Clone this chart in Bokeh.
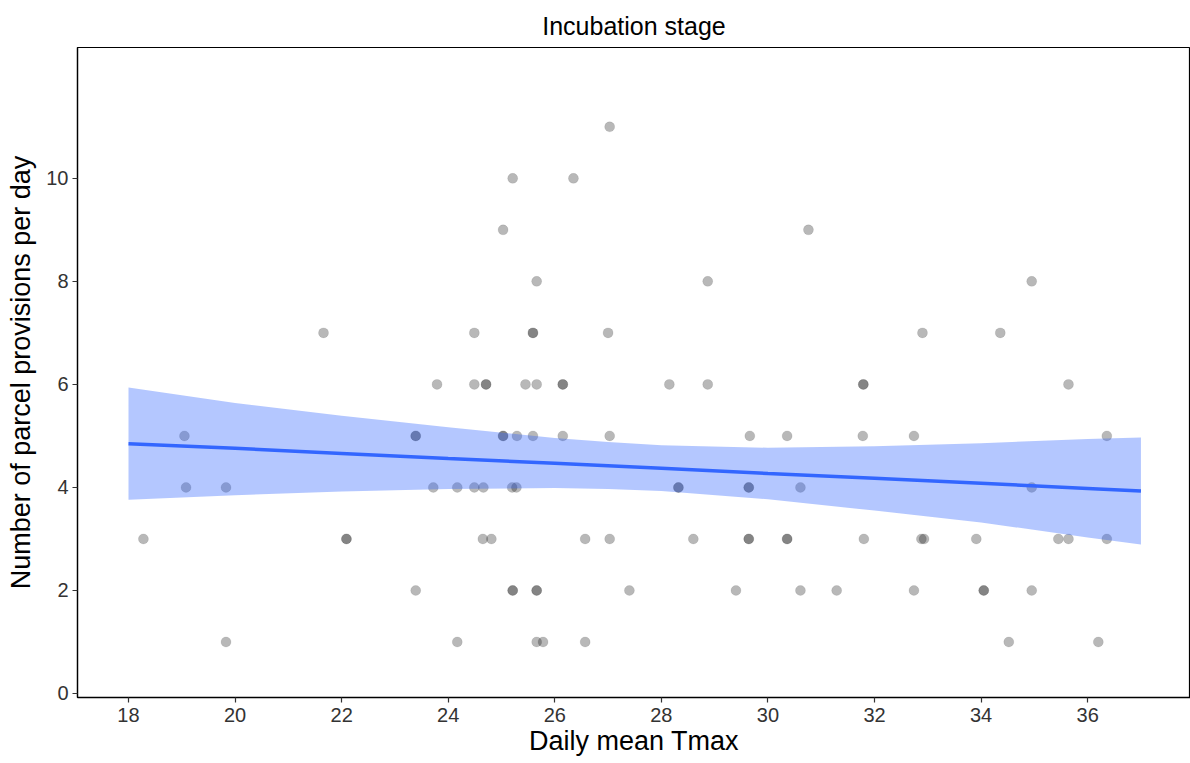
from bokeh.plotting import figure
from bokeh.models import Range1d, FixedTicker, ColumnDataSource
from bokeh.embed import file_html
from bokeh.resources import INLINE

# ---- data ----
pt_x = [
    27.03,
    25.21, 26.35,
    25.03, 30.76,
    25.66, 28.87, 34.95,
    21.66, 24.49, 25.59, 25.59, 27.00, 32.90, 34.36,
    23.79, 24.49, 24.71, 24.71, 25.45, 25.66, 26.15, 26.15, 28.15, 28.87, 31.79, 31.79, 35.64,
    19.05, 23.39, 23.39, 25.03, 25.03, 25.29, 25.59, 26.15, 27.03, 29.66, 30.36, 31.78, 32.74, 36.36,
    19.08, 19.83, 23.72, 24.17, 24.49, 24.66, 25.20, 25.28, 28.32, 28.32, 29.64, 29.64, 30.61, 34.95,
    18.28, 22.09, 22.09, 24.65, 24.81, 26.57, 27.03, 28.60, 29.64, 29.64, 30.36, 30.36, 31.80, 32.88, 32.93, 33.91, 35.45, 35.64, 36.36,
    23.39, 25.21, 25.21, 25.66, 25.66, 27.40, 29.40, 30.61, 31.29, 32.74, 34.05, 34.05, 34.95,
    19.83, 24.17, 25.66, 25.78, 26.57, 34.52, 36.20,
]
pt_y = (
    [11] * 1 + [10] * 2 + [9] * 2 + [8] * 3 + [7] * 7 + [6] * 13 + [5] * 14
    + [4] * 14 + [3] * 19 + [2] * 13 + [1] * 7
)

smooth_x = [18, 20, 22, 24, 26, 27, 28, 30, 32, 34, 36, 37]
smooth_fit = [4.85, 4.76, 4.66, 4.56, 4.47, 4.42, 4.37, 4.27, 4.18, 4.08, 3.98, 3.93]
smooth_upper = [5.94, 5.64, 5.39, 5.17, 4.96, 4.88, 4.82, 4.77, 4.80, 4.86, 4.94, 4.97]
smooth_lower = [3.76, 3.85, 3.92, 3.97, 3.99, 3.97, 3.93, 3.77, 3.55, 3.32, 3.03, 2.89]

x_ticks = [18, 20, 22, 24, 26, 28, 30, 32, 34, 36]
y_ticks = [0, 2, 4, 6, 8, 10]

FONT = "Liberation Sans"

p = figure(
    width=1190, height=763,
    x_range=Range1d(17.043, 37.93), y_range=Range1d(-0.078, 12.54),
    output_backend="svg", toolbar_location=None,
    min_border_left=77, min_border_right=0, min_border_top=47, min_border_bottom=66,
    title="Incubation stage",
)
p.background_fill_color = "white"
p.border_fill_color = "white"
p.xgrid.visible = False
p.ygrid.visible = False
p.outline_line_color = "black"
p.outline_line_width = 1.2

p.title.align = "center"
p.title.text_font = FONT
p.title.text_font_size = "25px"
p.title.text_font_style = "normal"
p.title.text_color = "black"
p.title.standoff = 15

src = ColumnDataSource(dict(x=pt_x, y=pt_y))
p.scatter("x", "y", source=src, size=10, fill_color="black", fill_alpha=0.28,
          line_color="black", line_alpha=0.08, line_width=1)

sm = ColumnDataSource(dict(x=smooth_x, fit=smooth_fit, lo=smooth_lower, hi=smooth_upper))
p.varea(x="x", y1="lo", y2="hi", source=sm, fill_color="#3366FF", fill_alpha=0.37)
p.line(x="x", y="fit", source=sm, line_color="#3366FF", line_width=3.5)

for ax in (p.xaxis[0], p.yaxis[0]):
    ax.axis_line_color = "black"
    ax.axis_line_width = 1.3
    ax.major_tick_line_color = "#333333"
    ax.major_tick_line_width = 1.2
    ax.major_tick_out = 5
    ax.major_tick_in = 0
    ax.minor_tick_line_color = None
    ax.major_label_text_font = FONT
    ax.major_label_text_font_size = "20px"
    ax.major_label_text_color = "#333333"
    ax.axis_label_text_font = FONT
    ax.axis_label_text_font_size = "27px"
    ax.axis_label_text_font_style = "normal"
    ax.axis_label_text_color = "black"

p.xaxis[0].ticker = FixedTicker(ticks=x_ticks)
p.yaxis[0].ticker = FixedTicker(ticks=y_ticks)
p.xaxis[0].axis_label = "Daily mean Tmax"
p.yaxis[0].axis_label = "Number of parcel provisions per day"
p.xaxis[0].major_label_standoff = 5
p.xaxis[0].axis_label_standoff = 1
p.yaxis[0].major_label_standoff = 4
p.yaxis[0].axis_label_standoff = 7

open("out.html", "w").write(file_html(p, INLINE))
